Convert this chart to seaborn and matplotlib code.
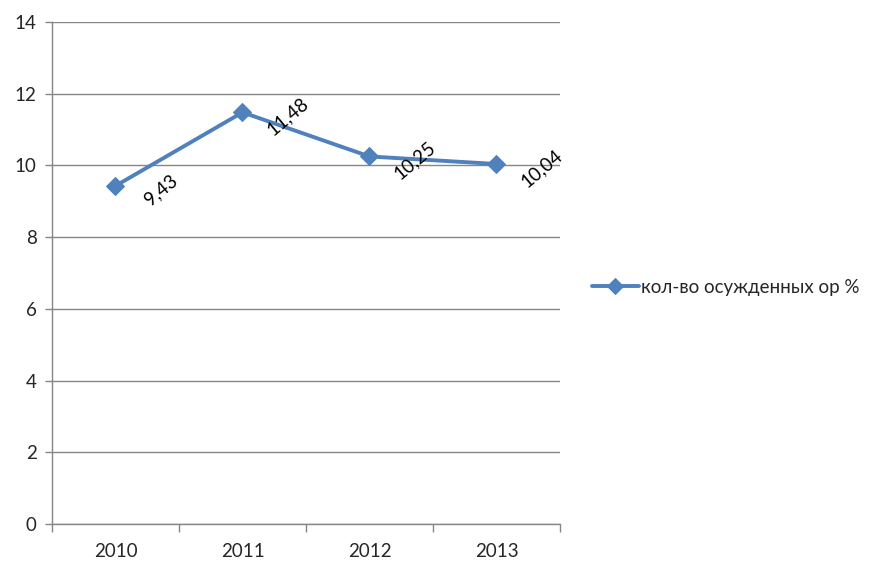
import matplotlib
matplotlib.use("Agg")
import matplotlib.pyplot as plt
import seaborn as sns
import pandas as pd
import numpy as np

years = ["2010", "2011", "2012", "2013"]
values = [9.43, 11.48, 10.25, 10.04]
labels = ["9,43", "11,48", "10,25", "10,04"]
series_name = "кол-во осужденных ор %"
yticks = [0, 2, 4, 6, 8, 10, 12, 14]

sns.set_theme(style="white")
plt.rcParams['font.family'] = ['Lato', 'DejaVu Sans']

df = pd.DataFrame({"year": years, "value": values})

fig = plt.figure(figsize=(8.79, 5.76), dpi=100)
ax = fig.add_axes([52/879, 1-524/576, (560-52)/879, (524-22)/576])

color = "#4F81BD"
sns.lineplot(data=df, x="year", y="value", ax=ax, color=color, lw=2.8,
             marker="D", markersize=9, markeredgecolor=color, label=series_name,
             sort=False)

for i, (v, t) in enumerate(zip(values, labels)):
    ax.annotate(t, (i, v), xytext=(45, -4), textcoords="offset pixels",
                rotation=40, ha="center", va="center", fontsize=13.5, color="black",
                rotation_mode="anchor")

ax.set_ylim(0, 14)
ax.set_xlim(-0.5, 3.5)
ax.set_yticks(yticks)
ax.set_yticklabels([str(y) for y in yticks], fontsize=13.5)
ax.set_xticks(range(len(years)))
ax.set_xticklabels(years, fontsize=13.5)
ax.set_xticks(np.arange(-0.5, 4, 1.0), minor=True)
ax.tick_params(axis="x", which="major", length=0, pad=14)
ax.tick_params(axis="x", which="minor", length=6, width=1, color="#868686", direction="out", bottom=True)
ax.tick_params(axis="y", which="major", length=5, width=1, color="#868686", direction="out", left=True, pad=6)
ax.set_xlabel("")
ax.set_ylabel("")
ax.grid(axis="y", color="#868686", lw=1)
ax.set_axisbelow(True)
for s in ["top", "right"]:
    ax.spines[s].set_visible(False)
for s in ["left", "bottom"]:
    ax.spines[s].set_color("#868686")
    ax.spines[s].set_linewidth(1)

leg = ax.legend(loc="center left", bbox_to_anchor=(575/879, 1-287/576),
                bbox_transform=fig.transFigure, frameon=False, fontsize=13.5,
                handlelength=2.5, handletextpad=0.1, markerscale=0.85)

fig.savefig("out.png", dpi=100)
